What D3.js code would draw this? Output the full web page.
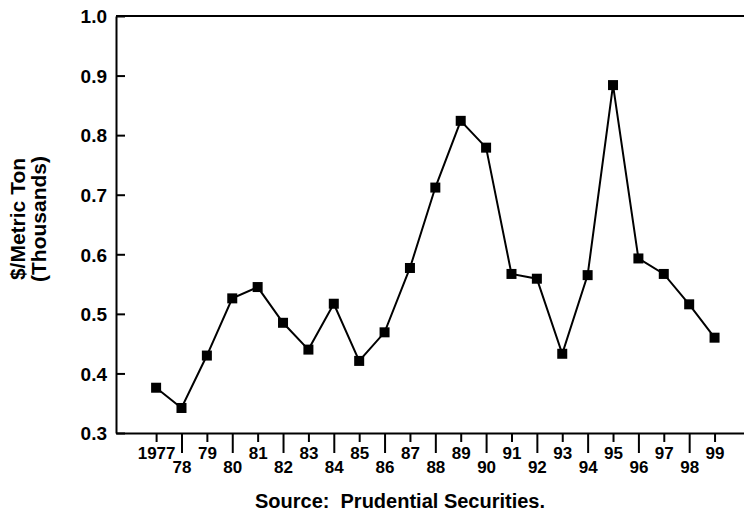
<!DOCTYPE html>
<html>
<head>
<meta charset="utf-8">
<script src="https://cdn.jsdelivr.net/npm/d3@7"></script>
<style>
  body { margin: 0; background: #fff; }
  text { font-family: "Liberation Sans", Arial, sans-serif; font-weight: bold; fill: #000; }
</style>
</head>
<body>
<svg width="744" height="514"></svg>
<script>
// data
var years = [1977, 1978, 1979, 1980, 1981, 1982, 1983, 1984, 1985, 1986, 1987, 1988,
             1989, 1990, 1991, 1992, 1993, 1994, 1995, 1996, 1997, 1998, 1999];
var prices = [0.376, 0.342, 0.430, 0.526, 0.545, 0.485, 0.440, 0.517, 0.421, 0.469, 0.577, 0.712,
              0.824, 0.779, 0.567, 0.559, 0.433, 0.565, 0.884, 0.593, 0.567, 0.516, 0.460];
var yTicks = [0.3, 0.4, 0.5, 0.6, 0.7, 0.8, 0.9, 1.0];
var yTitle = ["$/Metric Ton", "(Thousands)"];
var source = "Source:  Prudential Securities.";

var svg = d3.select("svg");
// plot edges (note: "top" is a reserved window prop, so use prefixed names)
var pLeft = 116, pRight = 744, pTop = 16, pBottom = 433;

var x = d3.scaleLinear().domain([1975.42, 2000.16]).range([pLeft, pRight]);
var y = d3.scaleLinear().domain([0.3, 1.0]).range([pBottom, pTop]);

// top frame line
svg.append("line")
  .attr("x1", pLeft).attr("x2", pRight)
  .attr("y1", pTop).attr("y2", pTop)
  .attr("stroke", "#000").attr("stroke-width", 2);

// y axis, ticks point inward
var yAxis = svg.append("g")
  .attr("transform", "translate(" + pLeft + ",0)")
  .call(d3.axisLeft(y).tickValues(yTicks).tickFormat(d3.format(".1f"))
    .tickSizeInner(-9).tickSizeOuter(0).tickPadding(9));
yAxis.select(".domain").attr("stroke-width", 2);
yAxis.selectAll(".tick line").attr("stroke-width", 2);
yAxis.selectAll(".tick text")
  .attr("font-size", 19).attr("font-family", null).attr("dy", "0.36em");

// x axis, alternating short / long ticks
var xAxis = svg.append("g")
  .attr("transform", "translate(0," + pBottom + ")")
  .call(d3.axisBottom(x).tickValues(years)
    .tickFormat(function(d) { return d == 1977 ? "1977" : String(d).slice(2); })
    .tickSizeOuter(0));
xAxis.select(".domain").attr("stroke-width", 2);
xAxis.selectAll(".tick line")
  .attr("stroke-width", 2)
  .attr("y2", function(d, i) { return i % 2 ? 20 : 9; });
xAxis.selectAll(".tick text")
  .attr("font-size", 17).attr("font-family", null)
  .attr("dy", null)
  .attr("y", function(d, i) { return i % 2 ? 40 : 26; });

// line + square markers
var line = d3.line()
  .x(function(d, i) { return x(years[i]); })
  .y(function(d) { return y(d); });
svg.append("path")
  .datum(prices)
  .attr("d", line)
  .attr("fill", "none")
  .attr("stroke", "#000")
  .attr("stroke-width", 2);

svg.append("g").selectAll("rect")
  .data(prices)
  .enter()
  .append("rect")
  .attr("x", function(d, i) { return x(years[i]) - 5; })
  .attr("y", function(d) { return y(d) - 5; })
  .attr("width", 10).attr("height", 10)
  .attr("fill", "#000");

// y title, two rotated lines
svg.append("g")
  .attr("transform", "translate(25,219) rotate(-90)")
  .selectAll("text")
  .data(yTitle)
  .enter()
  .append("text")
  .attr("text-anchor", "middle")
  .attr("y", function(d, i) { return i * 21; })
  .attr("font-size", 21)
  .text(function(d) { return d; });

// source note
svg.append("text")
  .attr("x", 400).attr("y", 508)
  .attr("text-anchor", "middle")
  .attr("font-size", 20)
  .style("white-space", "pre")
  .text(source);
</script>
</body>
</html>
